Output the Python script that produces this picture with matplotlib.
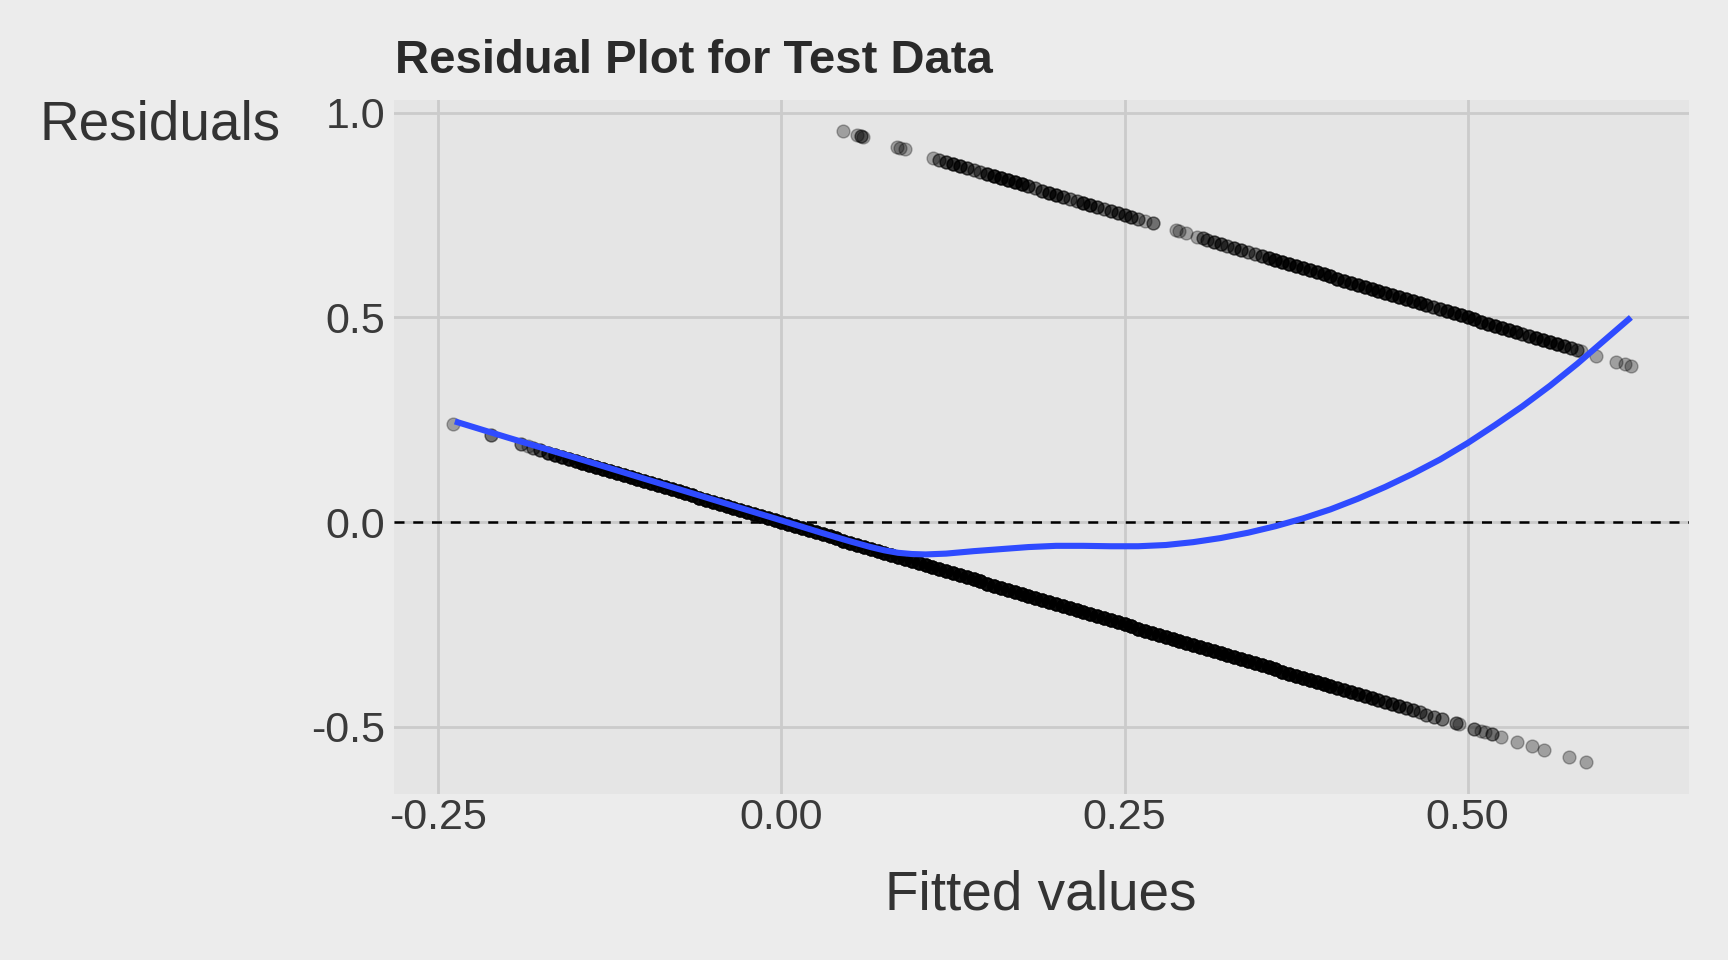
import numpy as np
import matplotlib.pyplot as plt

plt.rcParams["font.family"] = ["Liberation Sans", "DejaVu Sans"]

# fitted values of the test rows whose outcome is 0, with how many rows sit at each value
fit_0 = [
    -0.2395, -0.212, -0.190, -0.185, -0.181, -0.176,
    -0.170, -0.165, -0.160, -0.155, -0.150, -0.145, -0.140, -0.135, -0.130, -0.125,
    -0.120, -0.115, -0.110, -0.105, -0.100, -0.095, -0.090, -0.085, -0.080, -0.075,
    -0.070, -0.065, -0.060, -0.055, -0.050, -0.045, -0.040, -0.035, -0.030, -0.025,
    -0.020, -0.015, -0.010, -0.005, 0.000, 0.005, 0.010, 0.015, 0.020, 0.025,
    0.030, 0.035, 0.040, 0.045, 0.050, 0.055, 0.060, 0.065, 0.070, 0.075,
    0.080, 0.085, 0.090, 0.095, 0.100, 0.105, 0.110, 0.115, 0.120, 0.125,
    0.130, 0.135, 0.140, 0.145, 0.150, 0.155, 0.160, 0.165, 0.170, 0.175,
    0.180, 0.185, 0.190, 0.195, 0.200, 0.205, 0.210, 0.215, 0.220, 0.225,
    0.230, 0.235, 0.240, 0.245, 0.250, 0.255, 0.260, 0.265, 0.270, 0.275,
    0.280, 0.285, 0.290, 0.295, 0.300, 0.305, 0.310, 0.315, 0.320, 0.325,
    0.330, 0.335, 0.340, 0.345, 0.350, 0.355, 0.360, 0.365, 0.370, 0.375,
    0.380, 0.385, 0.390, 0.395, 0.400, 0.405, 0.410, 0.415, 0.420, 0.425,
    0.430, 0.435, 0.440, 0.445, 0.450, 0.455,
    0.460, 0.465, 0.470, 0.4755, 0.4816, 0.4913, 0.4935, 0.5045, 0.5095, 0.513,
    0.518, 0.524, 0.536, 0.547, 0.556, 0.574, 0.586,
]
n_0 = [
    1, 2, 2, 1, 2, 3,
    4, 5, 5, 6, 6, 8, 8, 8, 8, 8,
    8, 8, 8, 8, 8, 8, 8, 8, 8, 8,
    8, 8, 8, 8, 8, 8, 8, 8, 8, 8,
    8, 8, 8, 8, 8, 8, 8, 8, 8, 8,
    8, 8, 8, 8, 8, 8, 8, 8, 8, 8,
    8, 8, 8, 8, 8, 8, 8, 8, 8, 8,
    8, 8, 8, 8, 8, 8, 8, 8, 8, 8,
    8, 8, 8, 8, 8, 8, 8, 8, 8, 8,
    8, 8, 8, 8, 8, 8, 8, 8, 8, 8,
    8, 8, 8, 8, 8, 8, 8, 8, 8, 8,
    8, 8, 8, 8, 8, 8, 8, 8, 8, 8,
    8, 8, 8, 8, 7, 6, 6, 6, 6, 5,
    5, 4, 4, 4, 4, 3,
    3, 2, 2, 2, 2, 2, 1, 2, 1, 1,
    2, 1, 1, 1, 1, 1, 1,
]

# fitted values of the test rows whose outcome is 1
fit_1 = [
    0.0452, 0.0553, 0.0576, 0.0596, 0.0839, 0.0867, 0.0897, 0.1104,
    0.115, 0.120, 0.125, 0.130, 0.135, 0.140, 0.145, 0.150, 0.155, 0.160,
    0.165, 0.170, 0.175, 0.180, 0.185, 0.190, 0.195, 0.200, 0.205, 0.210,
    0.215, 0.220, 0.225, 0.230, 0.235, 0.240, 0.245, 0.250, 0.255, 0.260,
    0.265, 0.2705,
    0.2873, 0.2900, 0.2945,
    0.303, 0.307, 0.310, 0.315, 0.320, 0.325, 0.330, 0.335, 0.340, 0.345,
    0.350, 0.355, 0.360, 0.365, 0.370, 0.375, 0.380, 0.385, 0.390, 0.395,
    0.400, 0.405, 0.410, 0.415, 0.420, 0.425, 0.430, 0.435, 0.440, 0.445,
    0.450, 0.455, 0.460, 0.465, 0.470, 0.475, 0.480, 0.485, 0.490, 0.495,
    0.500, 0.505, 0.510, 0.515, 0.520, 0.525, 0.530, 0.535, 0.540, 0.545,
    0.550, 0.555, 0.560, 0.565, 0.570, 0.575, 0.580,
    0.583, 0.5935, 0.608, 0.615, 0.619,
]
n_1 = [
    1, 1, 2, 1, 1, 1, 1, 1,
    2, 3, 4, 4, 3, 2, 2, 4, 5, 5,
    5, 5, 5, 3, 2, 3, 4, 4, 3, 2,
    2, 4, 4, 3, 2, 3, 3, 3, 3, 2,
    1, 2,
    1, 1, 1,
    1, 2, 2, 3, 3, 2, 3, 3, 2, 2,
    3, 4, 5, 5, 5, 5, 5, 5, 5, 5,
    5, 5, 5, 5, 5, 5, 5, 5, 5, 5,
    5, 5, 5, 5, 4, 3, 4, 5, 5, 5,
    5, 5, 5, 5, 5, 5, 5, 5, 3, 4,
    5, 5, 5, 5, 4, 3, 2,
    1, 1, 1, 1, 1,
]

# loess smooth of residuals on fitted values
smooth_x = [-0.238, -0.20, -0.15, -0.10, -0.05, 0.00, 0.03, 0.05, 0.065, 0.075,
            0.085, 0.095, 0.105, 0.12, 0.14, 0.16, 0.18, 0.20, 0.22, 0.24,
            0.26, 0.28, 0.30, 0.32, 0.34, 0.36, 0.38, 0.40, 0.42, 0.44,
            0.46, 0.48, 0.50, 0.52, 0.54, 0.56, 0.58, 0.60, 0.619]
smooth_y = [0.246, 0.207, 0.157, 0.106, 0.055, 0.004, -0.027, -0.047, -0.061, -0.069,
            -0.075, -0.078, -0.079, -0.077, -0.071, -0.066, -0.061, -0.058, -0.058, -0.059,
            -0.059, -0.056, -0.049, -0.039, -0.026, -0.010, 0.009, 0.031, 0.057, 0.086,
            0.118, 0.153, 0.193, 0.237, 0.283, 0.333, 0.387, 0.445, 0.500]

x_ticks = [-0.25, 0.0, 0.25, 0.5]
x_labels = ["-0.25", "0.00", "0.25", "0.50"]
y_ticks = [-0.5, 0.0, 0.5, 1.0]
y_labels = ["-0.5", "0.0", "0.5", "1.0"]

# observed outcome minus fitted value
fitted = np.concatenate([np.repeat(fit_0, n_0), np.repeat(fit_1, n_1)])
observed = np.concatenate([np.zeros(sum(n_0)), np.ones(sum(n_1))])
resid = observed - fitted

fig = plt.figure(figsize=(17.28, 9.6), dpi=100, facecolor="#ECECEC")
ax = fig.add_axes([0.2279, 0.1730, 0.7495, 0.7228])
ax.set_facecolor("#E5E5E5")

ax.scatter(fitted, resid, s=85, color="black", alpha=0.3, linewidths=1.0, zorder=2)
ax.axhline(0, color="black", lw=1.8, dashes=(4, 3.5), zorder=3)
ax.plot(smooth_x, smooth_y, color="#2F4BFF", lw=4.4, solid_capstyle="butt", zorder=4)

ax.set_xlim(-0.2825, 0.6613)
ax.set_ylim(-0.664, 1.031)
ax.set_xticks(x_ticks, x_labels)
ax.set_yticks(y_ticks, y_labels)
ax.grid(True, color="#CBCBCB", lw=2.0, zorder=0)
ax.set_axisbelow(True)
for s in ax.spines.values():
    s.set_visible(False)
ax.tick_params(length=0, labelsize=31, labelcolor="#3A3A3A")
ax.tick_params(axis="x", pad=3)
ax.tick_params(axis="y", pad=6)

fig.text(395 / 1728, 0.9243, "Residual Plot for Test Data", fontsize=34,
         fontweight="bold", color="#2A2A2A", ha="left", va="baseline")
fig.text(40 / 1728, 0.8542, "Residuals", fontsize=39.5, color="#333333",
         ha="left", va="baseline")
fig.text(0.6024, 0.0531, "Fitted values", fontsize=39.5, color="#333333",
         ha="center", va="baseline")

fig.savefig("out.png", dpi=100, facecolor=fig.get_facecolor())
